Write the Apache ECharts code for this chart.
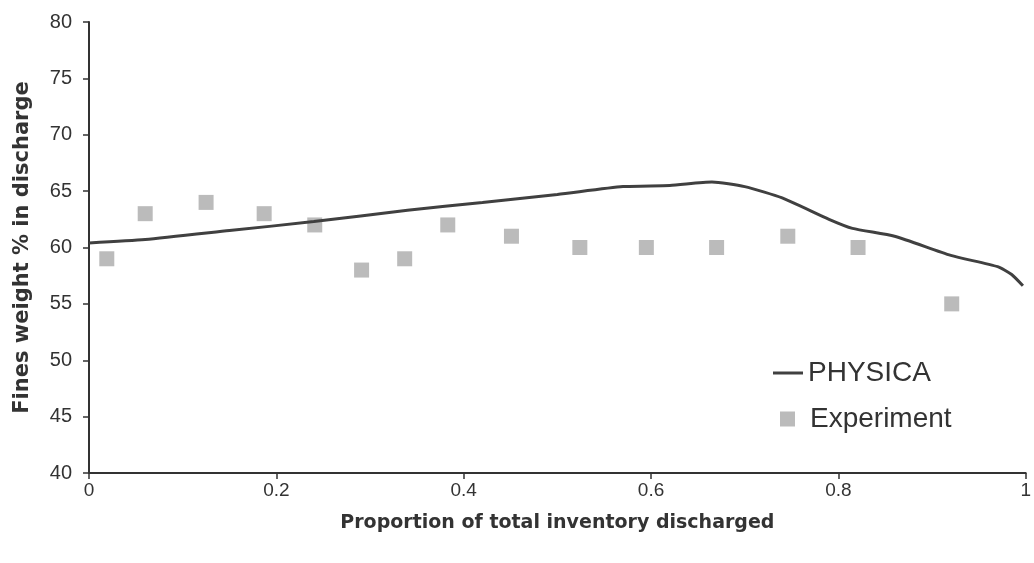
<!DOCTYPE html>
<html><head><meta charset="utf-8">
<script src="https://cdn.jsdelivr.net/npm/echarts@6/dist/echarts.min.js"></script>
<style>html,body{margin:0;padding:0;background:#fff}#c{width:1034px;height:563px}</style>
</head><body><div id="c"></div>
<script>
var physicaX = [0, 0.06, 0.15, 0.24, 0.34, 0.42, 0.5, 0.57, 0.62, 0.665, 0.7, 0.74, 0.79, 0.815, 0.86, 0.92, 0.97, 0.985, 0.997];
var physicaY = [60.4, 60.7, 61.5, 62.3, 63.3, 64.0, 64.7, 65.4, 65.5, 65.8, 65.4, 64.4, 62.5, 61.7, 61.0, 59.3, 58.3, 57.6, 56.6];
var expX = [0.019, 0.06, 0.125, 0.187, 0.241, 0.291, 0.337, 0.383, 0.451, 0.524, 0.595, 0.670, 0.746, 0.821, 0.921];
var expY = [59, 63, 64, 63, 62, 58, 59, 62, 61, 60, 60, 60, 61, 60, 55];
var xTicks = [0, 0.2, 0.4, 0.6, 0.8, 1];
var yTicks = [40, 45, 50, 55, 60, 65, 70, 75, 80];

function zip(a, b) { return a.map(function (v, i) { return [v, b[i]]; }); }
var font = '"Liberation Sans", Arial, sans-serif';
var titleFont = '"DejaVu Sans", sans-serif';
var chart = echarts.init(document.getElementById('c'));
chart.setOption({
  animation: false,
  textStyle: { fontFamily: font },
  grid: { left: 89, right: 0, top: 22, bottom: 90, containLabel: false },
  xAxis: {
    type: 'value', min: 0, max: 1, interval: 0.2,
    name: 'Proportion of total inventory discharged', nameLocation: 'middle', nameGap: 41,
    nameTextStyle: { fontSize: 19, fontWeight: 'bold', color: '#333', fontFamily: titleFont },
    axisLine: { lineStyle: { color: '#333', width: 2 } },
    axisTick: { inside: false, length: 6, lineStyle: { color: '#333', width: 1.5 } },
    axisLabel: { fontSize: 19, color: '#333', margin: 8, fontFamily: font,
      formatter: function (v) { var r = Math.round(v * 10) / 10; return xTicks.indexOf(r) >= 0 ? String(r) : ''; } },
    splitLine: { show: false }
  },
  yAxis: {
    type: 'value', min: 40, max: 80, interval: 5,
    name: 'Fines weight % in discharge', nameLocation: 'middle', nameGap: 56,
    nameTextStyle: { fontSize: 21, fontWeight: 'bold', color: '#333', fontFamily: titleFont },
    axisLine: { show: true, lineStyle: { color: '#333', width: 2 } },
    axisTick: { show: true, length: 6, lineStyle: { color: '#333', width: 1.5 } },
    axisLabel: { fontSize: 20, color: '#333', margin: 17, fontFamily: font,
      formatter: function (v) { return yTicks.indexOf(v) >= 0 ? String(v) : ''; } },
    splitLine: { show: false }
  },
  legend: [
    { data: [{ name: 'PHYSICA', icon: 'rect' }], left: 768, top: 354, itemWidth: 30, itemHeight: 3, itemGap: 5,
      textStyle: { fontSize: 28, color: '#333', fontFamily: font } },
    { data: [{ name: 'Experiment', icon: 'rect' }], left: 775, top: 400, itemWidth: 15, itemHeight: 15, itemGap: 20,
      textStyle: { fontSize: 28, color: '#333', fontFamily: font, padding: [0, 0, 0, 10] } }
  ],
  series: [
    { name: 'PHYSICA', type: 'line', data: zip(physicaX, physicaY), symbol: 'none', showSymbol: false,
      smooth: 0.2, lineStyle: { color: '#404040', width: 3 }, itemStyle: { color: '#404040' } },
    { name: 'Experiment', type: 'scatter', data: zip(expX, expY), symbol: 'rect', symbolSize: 15,
      itemStyle: { color: '#aaaaaa' } }
  ]
});
</script></body></html>
